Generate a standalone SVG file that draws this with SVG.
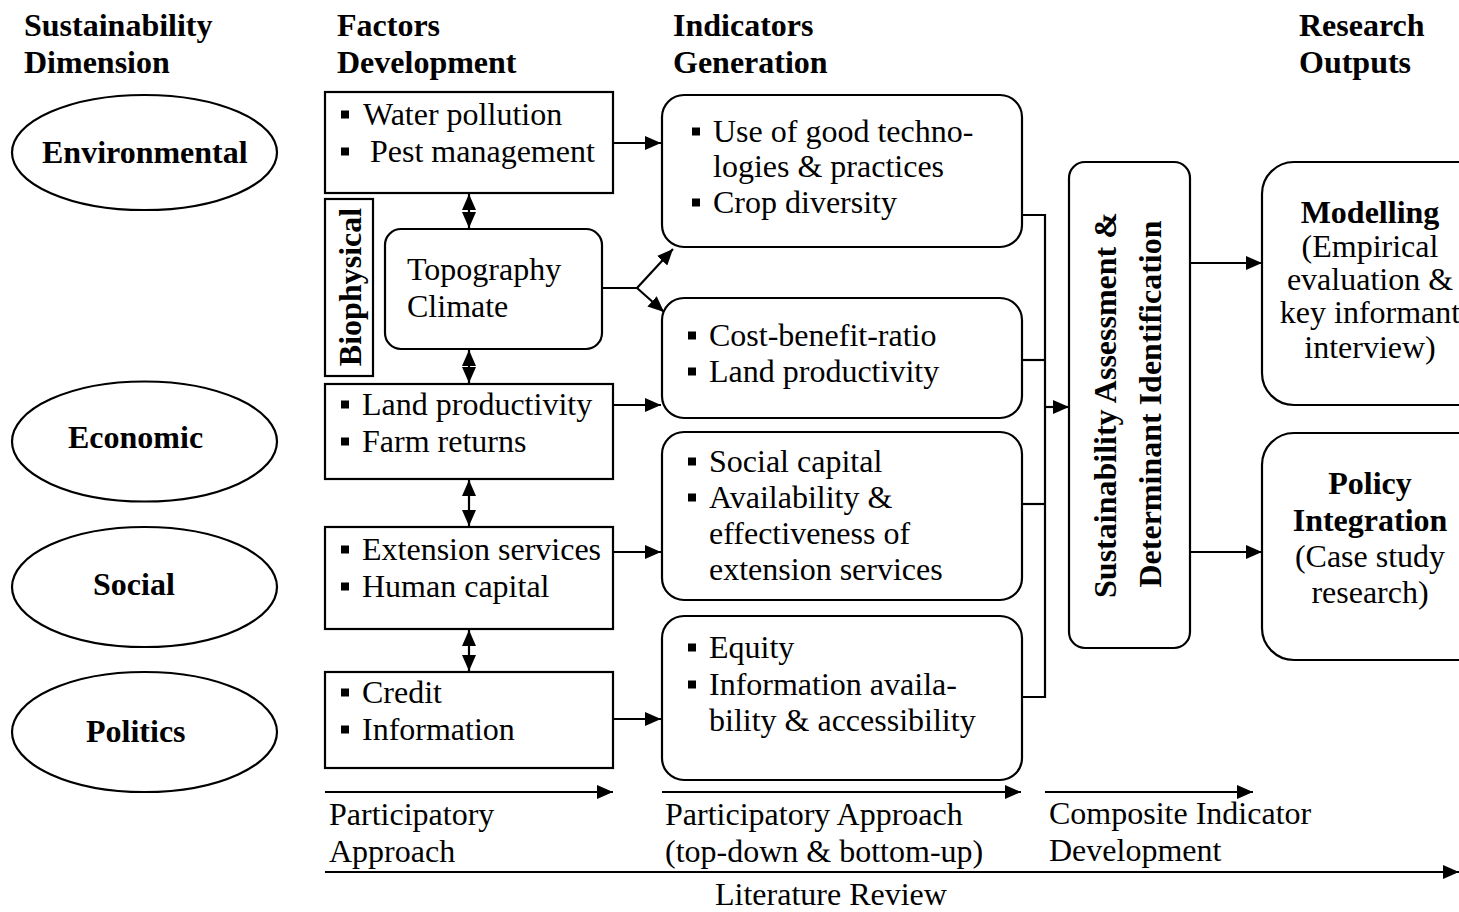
<svg xmlns="http://www.w3.org/2000/svg" width="1459" height="912" viewBox="0 0 1459 912">
<defs>
<marker id="ah" markerUnits="userSpaceOnUse" markerWidth="16" markerHeight="14" refX="16" refY="7" orient="auto-start-reverse">
<path d="M0,0 L16,7 L0,14 z" fill="#000"/>
</marker>
<style>
text{font-family:"Liberation Serif","Times New Roman",serif;font-size:32px;fill:#000}
.b{font-weight:bold}
.m{text-anchor:middle}
.box{fill:#fff;stroke:#000;stroke-width:2.2}
.ln{fill:none;stroke:#000;stroke-width:2.2}
.ar{fill:none;stroke:#000;stroke-width:2.2;marker-end:url(#ah)}
.da{fill:none;stroke:#000;stroke-width:2.2;marker-end:url(#ah);marker-start:url(#ah)}
.bu{fill:#000}
</style>
</defs>
<rect width="1459" height="912" fill="#fff"/>

<g id="headers">
<text class="b" x="24" y="36">Sustainability</text>
<text class="b" x="24" y="73">Dimension</text>
<text class="b" x="337" y="36">Factors</text>
<text class="b" x="337" y="73">Development</text>
<text class="b" x="673" y="36">Indicators</text>
<text class="b" x="673" y="73">Generation</text>
<text class="b" x="1299" y="36">Research</text>
<text class="b" x="1299" y="73">Outputs</text>
</g>

<g id="dim-environmental">
<ellipse class="box" cx="144.5" cy="152.5" rx="132.5" ry="57.5"/>
<text class="b" x="42" y="163">Environmental</text>
</g>
<g id="dim-economic">
<ellipse class="box" cx="144.5" cy="441.5" rx="132.5" ry="60"/>
<text class="b" x="68" y="448">Economic</text>
</g>
<g id="dim-social">
<ellipse class="box" cx="144.5" cy="587" rx="132.5" ry="60"/>
<text class="b" x="93" y="595">Social</text>
</g>
<g id="dim-politics">
<ellipse class="box" cx="144.5" cy="732" rx="132.5" ry="60"/>
<text class="b" x="86" y="742">Politics</text>
</g>

<g id="factor-env">
<rect class="box" x="325" y="92" width="288" height="101"/>
<rect class="bu" x="341" y="110.5" width="8" height="8"/>
<text x="363" y="125">Water pollution</text>
<rect class="bu" x="341" y="147.5" width="8" height="8"/>
<text x="370" y="162">Pest management</text>
</g>
<g id="biophysical">
<rect class="box" x="325" y="199" width="48" height="177"/>
<text class="b m" transform="translate(361,287) rotate(-90)">Biophysical</text>
</g>
<g id="topography">
<rect class="box" x="385" y="229" width="217" height="120" rx="16"/>
<text x="407" y="280">Topography</text>
<text x="407" y="317">Climate</text>
</g>
<g id="factor-econ">
<rect class="box" x="325" y="384" width="288" height="95"/>
<rect class="bu" x="341" y="400.5" width="8" height="8"/>
<text x="362" y="415">Land productivity</text>
<rect class="bu" x="341" y="437.5" width="8" height="8"/>
<text x="362" y="452">Farm returns</text>
</g>
<g id="factor-social">
<rect class="box" x="325" y="527" width="288" height="102"/>
<rect class="bu" x="341" y="545.5" width="8" height="8"/>
<text x="362" y="560">Extension services</text>
<rect class="bu" x="341" y="582.5" width="8" height="8"/>
<text x="362" y="597">Human capital</text>
</g>
<g id="factor-politics">
<rect class="box" x="325" y="672" width="288" height="96"/>
<rect class="bu" x="341" y="688.5" width="8" height="8"/>
<text x="362" y="703">Credit</text>
<rect class="bu" x="341" y="725.5" width="8" height="8"/>
<text x="362" y="740">Information</text>
</g>

<g id="ind-env">
<rect class="box" x="662" y="95" width="360" height="152" rx="22"/>
<rect class="bu" x="692" y="127.5" width="8" height="8"/>
<text x="713" y="142">Use of good techno-</text>
<text x="713" y="177">logies &amp; practices</text>
<rect class="bu" x="692" y="198.5" width="8" height="8"/>
<text x="713" y="213">Crop diversity</text>
</g>
<g id="ind-econ">
<rect class="box" x="662" y="298" width="360" height="120" rx="22"/>
<rect class="bu" x="688" y="331.5" width="8" height="8"/>
<text x="709" y="346">Cost-benefit-ratio</text>
<rect class="bu" x="688" y="367.5" width="8" height="8"/>
<text x="709" y="382">Land productivity</text>
</g>
<g id="ind-social">
<rect class="box" x="662" y="432" width="360" height="168" rx="22"/>
<rect class="bu" x="688" y="457.5" width="8" height="8"/>
<text x="709" y="472">Social capital</text>
<rect class="bu" x="688" y="493.5" width="8" height="8"/>
<text x="709" y="508">Availability &amp;</text>
<text x="709" y="544">effectiveness of</text>
<text x="709" y="580">extension services</text>
</g>
<g id="ind-politics">
<rect class="box" x="662" y="616" width="360" height="164" rx="22"/>
<rect class="bu" x="688" y="643.5" width="8" height="8"/>
<text x="709" y="658">Equity</text>
<rect class="bu" x="688" y="680.5" width="8" height="8"/>
<text x="709" y="695">Information availa-</text>
<text x="709" y="731">bility &amp; accessibility</text>
</g>

<g id="assessment">
<rect class="box" x="1069" y="162" width="121" height="486" rx="16"/>
<text class="b m" transform="translate(1116,405) rotate(-90)">Sustainability Assessment &amp;</text>
<text class="b m" transform="translate(1161,404) rotate(-90)">Determinant Identification</text>
</g>

<g id="out-modelling">
<rect class="box" x="1262" y="162" width="230" height="243" rx="32"/>
<text class="b m" x="1370" y="223">Modelling</text>
<text class="m" x="1370" y="257">(Empirical</text>
<text class="m" x="1370" y="290">evaluation &amp;</text>
<text class="m" x="1370" y="323">key informant</text>
<text class="m" x="1370" y="358">interview)</text>
</g>
<g id="out-policy">
<rect class="box" x="1262" y="433" width="230" height="227" rx="32"/>
<text class="b m" x="1370" y="494">Policy</text>
<text class="b m" x="1370" y="531">Integration</text>
<text class="m" x="1370" y="567">(Case study</text>
<text class="m" x="1370" y="603">research)</text>
</g>

<g id="connectors">
<line class="da" x1="469" y1="194" x2="469" y2="228"/>
<line class="da" x1="469" y1="350" x2="469" y2="383"/>
<line class="da" x1="469" y1="480" x2="469" y2="526"/>
<line class="da" x1="469" y1="630" x2="469" y2="671"/>
<line class="ar" x1="613" y1="143" x2="661" y2="143"/>
<line class="ar" x1="613" y1="405" x2="661" y2="405"/>
<line class="ar" x1="613" y1="552" x2="661" y2="552"/>
<line class="ar" x1="613" y1="719" x2="661" y2="719"/>
<polyline class="ln" points="602,288 637,288"/>
<line class="ar" x1="637" y1="288" x2="673" y2="249"/>
<line class="ar" x1="637" y1="288" x2="664" y2="312"/>
<polyline class="ln" points="1022,215 1045,215 1045,697 1022,697"/>
<line class="ln" x1="1022" y1="360" x2="1045" y2="360"/>
<line class="ln" x1="1022" y1="504" x2="1045" y2="504"/>
<line class="ar" x1="1045" y1="407" x2="1069" y2="407"/>
<line class="ar" x1="1190" y1="263" x2="1262" y2="263"/>
<line class="ar" x1="1190" y1="552" x2="1262" y2="552"/>
<line class="ar" x1="325" y1="792" x2="613" y2="792"/>
<line class="ar" x1="662" y1="792" x2="1021" y2="792"/>
<line class="ar" x1="1045" y1="792" x2="1253" y2="792"/>
<line class="ar" x1="325" y1="872" x2="1459" y2="872"/>
</g>

<g id="labels">
<text x="329" y="825">Participatory</text>
<text x="329" y="862">Approach</text>
<text x="665" y="825">Participatory Approach</text>
<text x="665" y="862">(top-down &amp; bottom-up)</text>
<text x="1049" y="824">Composite Indicator</text>
<text x="1049" y="861">Development</text>
<text x="715" y="905">Literature Review</text>
</g>
</svg>
